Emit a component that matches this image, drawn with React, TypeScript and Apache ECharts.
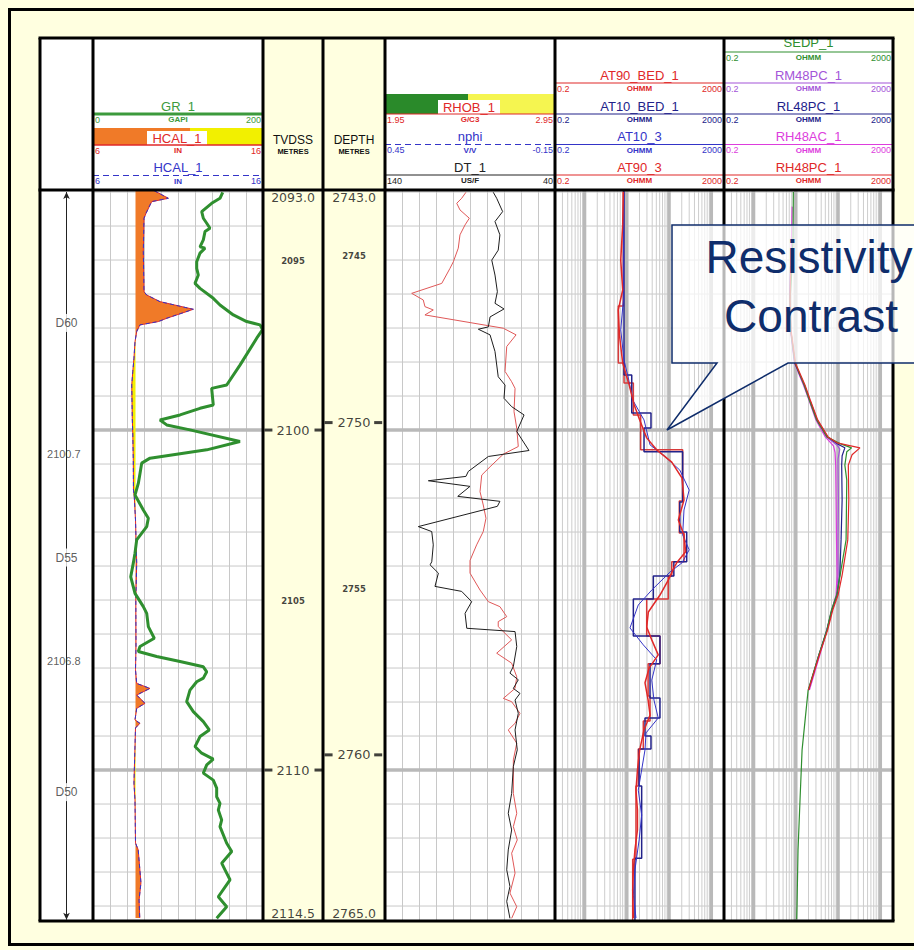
import React, { useEffect, useRef } from "react";
import * as echarts from "echarts";

// ---------- depth references ----------
const MD_RANGE = [2743.0, 2765.0];
const TVD_RANGE = [2093.0, 2114.5];
const TVD_AXIS = [2092.94, 2114.44];
const TVD_GRID = [2093, 2094, 2095, 2096, 2097, 2098, 2099, 2100, 2101, 2102, 2103, 2104, 2105, 2106, 2107, 2108, 2109, 2110, 2111, 2112, 2113, 2114];
const GR_RANGE = [0, 200];
const CAL_RANGE = [6, 16];
const BIT_SIZE = 8.5;
const RHOB_RANGE = [1.95, 2.95];
const DT_RANGE = [40, 140];
const RES_RANGE = [0.2, 2000];

const ZONE_NAMES = ["D60", "D55", "D50"];
const ZONE_LABEL_TVD = [2096.85, 2103.75, 2110.65];
const ZONE_BOUNDARIES = [2100.7, 2106.8];

const TVD_MINOR_LABELS = [2095, 2105];
const TVD_MAJOR_LABELS = [2100, 2110];
const MD_MINOR_LABELS = [2745, 2755];
const MD_MAJOR_LABELS = [2750, 2760];
const THICK_TVD_LINES = [2100, 2110];
const LOG_DECADES = [1, 10, 100, 1000];
const LOG_MINOR = [0.3, 0.4, 0.5, 0.6, 0.7, 0.8, 0.9, 2, 3, 4, 5, 6, 7, 8, 9, 20, 30, 40, 50, 60, 70, 80, 90, 200, 300, 400, 500, 600, 700, 800, 900];

// ---------- curves: [value, MD] ----------
const GR_1: [number, number][] = [
  [152.6, 2743.07], [149.4, 2743.25], [139.6, 2743.4], [127.9, 2743.65], [129.8, 2743.85], [133.8, 2744.0], [137.6, 2744.15], [131.8, 2744.25], [129.8, 2744.5], [125.9, 2744.71], [131.8, 2744.75], [125.9, 2744.9], [122.0, 2745.16], [122.0, 2745.36], [123.9, 2745.56], [120.0, 2745.81], [125.9, 2745.96], [141.5, 2746.26], [149.4, 2746.46], [165.1, 2746.76], [180.8, 2746.96], [196.5, 2747.06], [199.5, 2747.2], [192.6, 2747.46], [172.9, 2748.27], [157.3, 2748.87], [139.6, 2748.97], [141.5, 2749.47], [125.9, 2749.57], [102.4, 2749.77], [78.8, 2749.92], [86.7, 2750.07], [114.1, 2750.22], [172.9, 2750.57], [133.8, 2750.82], [67.1, 2751.07], [57.3, 2751.22], [55.3, 2751.53], [53.3, 2751.83], [49.4, 2752.18], [59.2, 2752.63], [65.1, 2752.88], [63.2, 2753.13], [51.4, 2753.53], [49.4, 2753.93], [47.4, 2754.23], [44.4, 2754.64], [49.4, 2755.14], [59.2, 2755.54], [63.2, 2755.74], [65.1, 2756.14], [72.1, 2756.49], [55.3, 2756.74], [53.3, 2756.89], [74.9, 2757.04], [102.4, 2757.19], [129.8, 2757.35], [133.8, 2757.5], [129.8, 2757.69], [122.0, 2757.8], [114.1, 2758.05], [110.2, 2758.4], [118.0, 2758.7], [129.8, 2759.0], [136.8, 2759.25], [125.9, 2759.45], [120.0, 2759.75], [127.9, 2759.95], [141.5, 2760.13], [133.8, 2760.3], [129.8, 2760.55], [141.5, 2760.76], [145.5, 2761.0], [145.5, 2761.26], [149.4, 2761.46], [147.4, 2761.66], [151.4, 2761.96], [149.4, 2762.16], [157.3, 2762.66], [163.2, 2762.91], [151.4, 2763.26], [155.3, 2763.46], [161.2, 2763.76], [147.4, 2764.27], [157.3, 2764.57], [145.5, 2764.92],
];

const HCAL_1: [number, number][] = [
  [9.6, 2743.02], [10.43, 2743.25], [9.45, 2743.35], [9.12, 2743.7], [9.0, 2743.85], [8.96, 2744.86], [9.0, 2746.06], [9.16, 2746.16], [9.94, 2746.36], [11.9, 2746.59], [10.34, 2746.86], [9.84, 2746.96], [8.76, 2747.06], [8.57, 2747.26], [8.47, 2747.57], [8.41, 2748.06], [8.34, 2748.47], [8.28, 2748.87], [8.31, 2749.87], [8.34, 2750.31], [8.37, 2751.13], [8.38, 2752.03], [8.43, 2752.24], [8.5, 2752.93], [8.57, 2754.22], [8.52, 2755.34], [8.53, 2756.74], [8.5, 2757.44], [8.57, 2757.85], [9.35, 2758.0], [8.57, 2758.2], [9.06, 2758.45], [8.57, 2758.6], [8.47, 2758.95], [8.76, 2759.05], [8.5, 2759.19], [8.41, 2760.85], [8.47, 2761.36], [8.5, 2762.65], [8.66, 2762.86], [8.82, 2763.85], [8.71, 2764.37], [8.75, 2764.91],
];

const RHOB_1: [number, number][] = [
  [2.426, 2743.07], [2.401, 2743.25], [2.372, 2743.4], [2.391, 2743.6], [2.446, 2743.85], [2.421, 2744.05], [2.391, 2744.35], [2.381, 2744.75], [2.352, 2745.16], [2.332, 2745.36], [2.284, 2745.81], [2.107, 2746.11], [2.175, 2746.31], [2.185, 2746.51], [2.234, 2746.61], [2.185, 2746.76], [2.646, 2747.16], [2.721, 2747.36], [2.666, 2747.71], [2.656, 2748.46], [2.695, 2748.77], [2.715, 2748.97], [2.709, 2749.67], [2.725, 2750.17], [2.734, 2750.72], [2.646, 2750.95], [2.568, 2751.33], [2.519, 2751.58], [2.509, 2752.08], [2.528, 2752.48], [2.544, 2752.88], [2.528, 2753.28], [2.489, 2753.68], [2.45, 2754.15], [2.45, 2754.53], [2.509, 2755.04], [2.558, 2755.39], [2.626, 2755.54], [2.666, 2755.84], [2.616, 2755.99], [2.616, 2756.14], [2.695, 2756.54], [2.607, 2756.94], [2.695, 2757.24], [2.725, 2757.65], [2.715, 2758.0], [2.646, 2758.3], [2.695, 2758.4], [2.744, 2758.75], [2.715, 2759.05], [2.675, 2759.25], [2.725, 2759.65], [2.705, 2760.15], [2.705, 2761.16], [2.725, 2761.76], [2.705, 2762.16], [2.728, 2762.56], [2.695, 2762.96], [2.715, 2763.56], [2.685, 2764.16], [2.725, 2764.57], [2.695, 2764.92],
];

const DT_1: [number, number][] = [
  [76.3, 2743.07], [74.3, 2743.25], [70.8, 2743.65], [75.3, 2743.95], [72.4, 2744.35], [73.4, 2744.81], [77.2, 2745.11], [75.3, 2745.56], [73.9, 2746.06], [75.3, 2746.41], [70.0, 2746.58], [78.2, 2746.82], [79.2, 2747.12], [85.1, 2747.19], [78.2, 2747.36], [75.3, 2747.86], [73.4, 2748.62], [69.4, 2748.87], [70.0, 2749.27], [65.5, 2749.52], [58.2, 2749.77], [62.5, 2750.27], [55.3, 2750.84], [79.2, 2751.02], [91.0, 2751.47], [92.4, 2751.62], [114.5, 2751.75], [90.0, 2751.92], [97.2, 2752.22], [72.4, 2752.37], [73.9, 2752.52], [120.4, 2753.13], [112.5, 2753.28], [111.6, 2753.68], [112.5, 2754.19], [113.5, 2754.28], [108.6, 2754.53], [110.6, 2754.93], [94.9, 2755.08], [89.0, 2755.39], [92.9, 2755.74], [91.9, 2756.19], [63.5, 2756.29], [62.5, 2756.74], [64.5, 2757.34], [66.5, 2757.54], [61.6, 2757.74], [64.5, 2758.0], [60.6, 2758.15], [63.5, 2758.35], [61.6, 2758.75], [63.5, 2759.25], [62.2, 2759.85], [64.5, 2760.35], [65.5, 2761.16], [67.5, 2761.76], [65.5, 2762.26], [67.5, 2762.86], [68.4, 2763.46], [66.5, 2763.96], [68.4, 2764.41], [66.5, 2764.92],
];

const AT90_3: [number, number][] = [
  [8.3, 2743.06], [8.0, 2744.05], [7.2, 2745.11], [8.0, 2746.01], [6.3, 2746.61], [6.7, 2747.36], [8.0, 2748.21], [11.4, 2748.87], [15.0, 2749.47], [20.2, 2749.92], [29.6, 2750.46], [51, 2750.82], [116, 2751.19], [203, 2751.67], [226, 2752.33], [166, 2752.93], [226, 2753.38], [247, 2753.89], [152, 2754.22], [133, 2754.35], [96, 2754.74], [61, 2755.19], [32.4, 2755.7], [29.6, 2756.15], [39, 2756.54], [55.5, 2756.99], [34, 2757.38], [27, 2757.83], [32, 2758.35], [35.5, 2758.8], [25.6, 2759.25], [20.2, 2759.85], [17.9, 2760.45], [16.5, 2761.06], [17.9, 2761.66], [17.9, 2762.26], [15.6, 2762.86], [14.3, 2763.46], [13.8, 2764.07], [14.3, 2764.91],
];

const AT10_3: [number, number][] = [
  [8.6, 2743.06], [8.3, 2745.11], [8.3, 2746.31], [7.2, 2747.21], [8.6, 2748.12], [10.9, 2748.66], [13.8, 2749.32], [25.6, 2749.92], [35.5, 2750.67], [72, 2750.97], [180, 2751.43], [300, 2752.03], [226, 2752.63], [210, 2753.38], [300, 2753.83], [203, 2754.22], [105, 2754.5], [39, 2755.04], [18.7, 2755.49], [11.9, 2756.18], [24.6, 2756.69], [51, 2757.14], [39, 2757.75], [44, 2758.35], [55.5, 2758.89], [28.5, 2759.34], [27, 2759.85], [22.5, 2760.45], [18.7, 2761.06], [22.5, 2761.81], [19.6, 2762.56], [15.6, 2763.46], [14.3, 2764.22], [16.5, 2764.91],
];

// blocky curves: [value, top MD, base MD]
const AT90_BED_1: [number, number, number][] = [
  [8.3, 2743.0, 2746.49], [6.3, 2746.49, 2748.21], [8.6, 2748.21, 2748.81], [14.3, 2748.81, 2749.77], [21.3, 2749.77, 2750.82], [210, 2750.82, 2752.36], [175, 2752.36, 2753.32], [226, 2753.32, 2754.19], [116, 2754.19, 2754.62], [96, 2754.62, 2755.31], [29.6, 2755.31, 2756.42], [61, 2756.42, 2757.26], [32, 2757.26, 2758.23], [35.5, 2758.23, 2758.98], [24.6, 2758.98, 2759.82], [18.7, 2759.82, 2760.94], [16.5, 2760.94, 2763.14], [13.8, 2763.14, 2765.0],
];
const AT10_BED_1: [number, number, number][] = [
  [8.6, 2743.0, 2748.57], [13.1, 2748.57, 2749.71], [37.4, 2749.71, 2750.16], [25.6, 2750.16, 2750.88], [210, 2750.88, 2752.39], [180, 2752.39, 2753.29], [262, 2753.29, 2754.19], [130, 2754.19, 2754.62], [42.5, 2754.62, 2755.31], [14.3, 2755.31, 2756.42], [61, 2756.42, 2757.26], [35.5, 2757.26, 2758.29], [61, 2758.29, 2758.89], [27, 2758.89, 2759.43], [37.4, 2759.43, 2759.82], [19.6, 2759.82, 2760.94], [22.5, 2760.94, 2763.11], [15.6, 2763.11, 2765.0],
];

const SEDP_1: [number, number][] = [
  [8.75, 2743.06], [8.6, 2744.5], [7.9, 2745.6], [7.3, 2746.31], [7.6, 2747.21], [9.6, 2748.21], [15.8, 2748.87], [20.9, 2749.32], [31.2, 2749.92], [54.5, 2750.43], [120, 2750.65], [209, 2750.76], [161, 2750.88], [145, 2751.28], [161, 2751.73], [158, 2752.6], [155, 2753.53], [112, 2754.59], [93, 2755.19], [70, 2755.64], [54.5, 2756.24], [35, 2757.0], [19.6, 2758.05], [14.1, 2759.85], [12.6, 2761.36], [11.3, 2762.86], [10.7, 2764.52], [10.5, 2764.95],
];
const RM48PC_1: [number, number][] = [
  [7.5, 2745.3], [7.2, 2746.31], [7.5, 2747.21], [9.4, 2748.21], [15.5, 2748.87], [21, 2749.32], [31, 2749.92], [53, 2750.43], [95, 2750.68], [110, 2750.8], [100, 2751.1], [100, 2751.28], [102, 2752.33], [100, 2753.53], [100, 2754.59], [92, 2755.19], [71, 2755.64], [54, 2756.24], [36, 2757.0], [20, 2758.05],
];
const RL48PC_1: [number, number][] = [
  [7.5, 2745.3], [7.2, 2746.31], [7.6, 2747.21], [9.5, 2748.21], [16, 2748.87], [21.5, 2749.32], [32, 2749.92], [56, 2750.43], [100, 2750.65], [145, 2750.76], [125, 2751.0], [122, 2751.28], [125, 2752.33], [118, 2753.53], [110, 2754.59], [95, 2755.19], [72, 2755.64], [55, 2756.24], [35, 2757.0], [20, 2758.05],
];
const RH48AC_1: [number, number][] = [
  [8.2, 2743.5], [8.0, 2744.2], [7.6, 2745.3], [7.2, 2746.31], [7.5, 2747.21], [9.3, 2748.21], [15.2, 2748.87], [20.5, 2749.32], [30, 2749.92], [50, 2750.43], [78, 2750.7], [85, 2750.9], [88, 2751.28], [90, 2752.33], [92, 2753.53], [95, 2754.59], [90, 2755.19], [72, 2755.64], [55, 2756.24], [37, 2757.0], [21, 2758.05],
];
const RH48PC_1: [number, number][] = [
  [7.6, 2745.3], [7.3, 2746.31], [7.7, 2747.21], [9.8, 2748.21], [16.5, 2748.87], [22, 2749.32], [33, 2749.92], [58, 2750.43], [95, 2750.61], [330, 2750.76], [215, 2750.97], [175, 2751.28], [180, 2752.33], [170, 2753.53], [125, 2754.59], [100, 2755.19], [75, 2755.64], [57, 2756.24], [36, 2757.0], [20, 2758.05],
];

// ---------- layout ----------
const FONT = "'Liberation Sans', Arial, sans-serif";
const DFONT = "'DejaVu Sans', Verdana, sans-serif";
const TOP = 190;
const BOTTOM = 921;
const HEAD_TOP = 38;
const PAGE_BG = "#ffffe0";
const GRID_COLOR = "#c8c8c8";
const THICK_COLOR = "#b9b9b9";

const C = {
  green: "#2f8f2f",
  red: "#e02828",
  lightRed: "#e05858",
  blue: "#3434c8",
  navy: "#22228a",
  purple: "#a455d8",
  magenta: "#dd3ddd",
  black: "#1e1e1e",
  orange: "#f07a28",
  yellow: "#f2f000",
  callout: "#0f2d6b",
};

const blocksToPath = (b: [number, number, number][]) =>
  b.flatMap(([v, t, s]) => [[v, t], [v, s]]);

function buildOption(): any {
  const trackDefs = [
    { key: "t0", left: 40, width: 53, bg: "#ffffff" },
    { key: "t1", left: 93, width: 170, bg: "#ffffff" },
    { key: "tv", left: 263, width: 60, bg: "transparent" },
    { key: "md", left: 323, width: 62, bg: "transparent" },
    { key: "t3", left: 385, width: 170, bg: "#ffffff" },
    { key: "t4", left: 555, width: 169, bg: "#ffffff" },
    { key: "t5", left: 724, width: 169, bg: "#ffffff" },
  ];
  const gi: any = {};
  trackDefs.forEach((t, i) => (gi[t.key] = i));

  const grid = trackDefs.map((t) => ({
    left: t.left, top: TOP, width: t.width, height: BOTTOM - TOP,
    show: true, backgroundColor: t.bg, borderWidth: 0, containLabel: false,
  }));

  const yAxis: any[] = [];
  trackDefs.forEach((_t, i) => {
    yAxis.push({ gridIndex: i, type: "value", inverse: true, min: TVD_AXIS[0], max: TVD_AXIS[1], show: false });
    yAxis.push({ gridIndex: i, type: "value", inverse: true, min: MD_RANGE[0], max: MD_RANGE[1], show: false });
  });
  const tvdY = (k: string) => gi[k] * 2;
  const mdY = (k: string) => gi[k] * 2 + 1;

  const xAxis: any[] = [];
  const hidden = { axisLine: { show: false }, axisTick: { show: false }, axisLabel: { show: false }, splitLine: { show: false } };
  const addX = (o: any) => { xAxis.push({ ...hidden, ...o }); return xAxis.length - 1; };
  const xT0 = addX({ gridIndex: gi.t0, type: "value", min: 0, max: 1 });
  const xT1f = addX({ gridIndex: gi.t1, type: "value", min: 0, max: 10, interval: 1, splitLine: { show: true, lineStyle: { color: GRID_COLOR, width: 1 } } });
  const xGR = addX({ gridIndex: gi.t1, type: "value", min: GR_RANGE[0], max: GR_RANGE[1] });
  const xCAL = addX({ gridIndex: gi.t1, type: "value", min: CAL_RANGE[0], max: CAL_RANGE[1] });
  const xTV = addX({ gridIndex: gi.tv, type: "value", min: 0, max: 1 });
  const xMD = addX({ gridIndex: gi.md, type: "value", min: 0, max: 1 });
  const xT3f = addX({ gridIndex: gi.t3, type: "value", min: 0, max: 10, interval: 1, splitLine: { show: true, lineStyle: { color: GRID_COLOR, width: 1 } } });
  const xRHOB = addX({ gridIndex: gi.t3, type: "value", min: RHOB_RANGE[0], max: RHOB_RANGE[1] });
  const xDT = addX({ gridIndex: gi.t3, type: "value", min: DT_RANGE[0], max: DT_RANGE[1], inverse: true });
  const xT4 = addX({ gridIndex: gi.t4, type: "log", logBase: 10, min: RES_RANGE[0], max: RES_RANGE[1] });
  const xT5 = addX({ gridIndex: gi.t5, type: "log", logBase: 10, min: RES_RANGE[0], max: RES_RANGE[1] });

  const series: any[] = [];

  // grid extras (depth lines, log verticals, thick depth lines)
  const gridExtras = (xi: number, yi: number, xmin: number, xmax: number, log: boolean) => ({
    type: "custom", xAxisIndex: xi, yAxisIndex: yi, silent: true, z: 1,
    data: [[xmin * 1.5, 2100]],
    renderItem: (_p: any, api: any) => {
      const children: any[] = [];
      const hline = (d: number, stroke: string, w: number) => {
        const a = api.coord([xmin, d]); const b = api.coord([xmax, d]);
        children.push({ type: "line", shape: { x1: a[0], y1: a[1], x2: b[0], y2: b[1] }, style: { stroke, lineWidth: w } });
      };
      const vline = (v: number, stroke: string, w: number) => {
        const a = api.coord([v, TVD_AXIS[0]]); const b = api.coord([v, TVD_AXIS[1]]);
        children.push({ type: "line", shape: { x1: a[0], y1: a[1], x2: b[0], y2: b[1] }, style: { stroke, lineWidth: w } });
      };
      TVD_GRID.forEach((d) => hline(d, GRID_COLOR, 1));
      if (log) {
        LOG_MINOR.forEach((v) => vline(v, "#cdcdcd", 1));
        LOG_DECADES.forEach((v) => vline(v, THICK_COLOR, 3.5));
      }
      THICK_TVD_LINES.forEach((d) => hline(d, THICK_COLOR, 3.5));
      return { type: "group", children };
    },
  });
  series.push(gridExtras(xT1f, tvdY("t1"), 0, 10, false));
  series.push(gridExtras(xT3f, tvdY("t3"), 0, 10, false));
  series.push(gridExtras(xT4, tvdY("t4"), RES_RANGE[0], RES_RANGE[1], true));
  series.push(gridExtras(xT5, tvdY("t5"), RES_RANGE[0], RES_RANGE[1], true));

  const curve = (name: string, data: any[], xi: number, yi: number, color: string, width: number, type: any = "solid", z = 3) => ({
    type: "line", name, data, xAxisIndex: xi, yAxisIndex: yi, showSymbol: false, symbol: "none", silent: true,
    clip: true, lineStyle: { color, width, type }, z,
  });

  // caliper fill
  series.push({
    type: "custom", xAxisIndex: xCAL, yAxisIndex: mdY("t1"), silent: true, z: 2,
    data: [[BIT_SIZE, 2750]],
    renderItem: (_p: any, api: any) => {
      const wash = HCAL_1.map(([c, d]) => api.coord([Math.max(c, BIT_SIZE), d]));
      const cake = HCAL_1.map(([c, d]) => api.coord([Math.min(c, BIT_SIZE), d]));
      const base = HCAL_1.slice().reverse().map(([, d]) => api.coord([BIT_SIZE, d]));
      return {
        type: "group", children: [
          { type: "polygon", shape: { points: wash.concat(base) }, style: { fill: C.orange } },
          { type: "polygon", shape: { points: cake.concat(base) }, style: { fill: C.yellow } },
        ],
      };
    },
  });
  series.push(curve("HCAL_1", HCAL_1, xCAL, mdY("t1"), C.red, 1, "solid", 3));
  series.push(curve("HCAL_1 b", HCAL_1, xCAL, mdY("t1"), C.blue, 1, [4, 3], 3));
  series.push(curve("GR_1", GR_1, xGR, mdY("t1"), C.green, 3, "solid", 4));

  series.push(curve("RHOB_1", RHOB_1, xRHOB, mdY("t3"), C.lightRed, 1));
  series.push(curve("DT_1", DT_1, xDT, mdY("t3"), C.black, 1));

  series.push(curve("AT90_BED_1", blocksToPath(AT90_BED_1), xT4, mdY("t4"), "#d83a3a", 1.5));
  series.push(curve("AT10_BED_1", blocksToPath(AT10_BED_1), xT4, mdY("t4"), C.navy, 1.5));
  series.push(curve("AT10_3", AT10_3, xT4, mdY("t4"), C.blue, 1));
  series.push(curve("AT90_3", AT90_3, xT4, mdY("t4"), C.red, 1.5, "solid", 4));

  series.push(curve("RM48PC_1", RM48PC_1, xT5, mdY("t5"), C.purple, 1.2));
  series.push(curve("RH48AC_1", RH48AC_1, xT5, mdY("t5"), C.magenta, 1.2));
  series.push(curve("RL48PC_1", RL48PC_1, xT5, mdY("t5"), C.navy, 1.2));
  series.push(curve("SEDP_1", SEDP_1, xT5, mdY("t5"), C.green, 1.2));
  series.push(curve("RH48PC_1", RH48PC_1, xT5, mdY("t5"), C.red, 1.2));

  // zone track
  series.push({
    type: "scatter", xAxisIndex: xT0, yAxisIndex: tvdY("t0"), silent: true, z: 3,
    symbolSize: 0, data: [[0.5, ZONE_LABEL_TVD[1]]],
    markLine: {
      silent: true, symbol: ["arrow", "arrow"], symbolSize: [5, 7],
      label: { show: false }, lineStyle: { color: "#222", width: 1, type: "solid" },
      data: [[{ coord: [0.5, TVD_RANGE[0]] }, { coord: [0.5, TVD_RANGE[1] - 0.1] }]],
    },
  });
  series.push({
    type: "scatter", xAxisIndex: xT0, yAxisIndex: tvdY("t0"), silent: true, z: 6,
    symbolSize: 1, itemStyle: { color: "rgba(0,0,0,0)" },
    data: ZONE_LABEL_TVD.map((d, i) => ({ value: [0.5, d], name: ZONE_NAMES[i] })),
    label: { show: true, position: "inside", formatter: "{b}", color: "#333", fontSize: 12, fontFamily: FONT, backgroundColor: "#ffffff", padding: [3, 1] },
  });
  series.push({
    type: "scatter", xAxisIndex: xT0, yAxisIndex: tvdY("t0"), silent: true, z: 6,
    symbolSize: 1, itemStyle: { color: "rgba(0,0,0,0)" },
    data: ZONE_BOUNDARIES.map((d) => [0.45, d]),
    label: { show: true, position: "inside", formatter: (p: any) => p.value[1].toFixed(1), color: "#333", fontSize: 11, fontFamily: FONT },
  });

  // depth tracks
  const depthLabels = (xi: number, yi: number, vals: number[], size: number, fmt: (v: number) => string, offset: number[] = [0, 0], bold = false) => ({
    type: "scatter", xAxisIndex: xi, yAxisIndex: yi, silent: true, z: 6, clip: false,
    symbolSize: 1, itemStyle: { color: "rgba(0,0,0,0)" },
    data: vals.map((v) => [0.5, v]),
    label: { show: true, position: "inside", offset, formatter: (p: any) => fmt(p.value[1]), color: "#111", fontSize: size, fontFamily: DFONT, fontWeight: bold ? "bold" : "normal" },
  });
  const ticks = (xi: number, yi: number, vals: number[], xl: number, xr: number) => ({
    type: "scatter", xAxisIndex: xi, yAxisIndex: yi, silent: true, z: 6,
    symbol: "rect", symbolSize: [8, 3], itemStyle: { color: "#111" },
    data: vals.flatMap((v) => [[xl, v], [xr, v]]),
  });
  const f0 = (v: number) => String(v);
  const f1 = (v: number) => v.toFixed(1);
  series.push(depthLabels(xTV, tvdY("tv"), TVD_MAJOR_LABELS, 13, f0));
  series.push(depthLabels(xTV, tvdY("tv"), TVD_MINOR_LABELS, 8.5, f0, [0, 1], true));
  series.push(depthLabels(xTV, tvdY("tv"), [TVD_RANGE[0]], 12.5, f1, [0, 5]));
  series.push(depthLabels(xTV, tvdY("tv"), [TVD_RANGE[1]], 12.5, f1, [0, -10]));
  series.push(ticks(xTV, tvdY("tv"), TVD_MAJOR_LABELS, 0.09, 0.925));
  series.push(depthLabels(xMD, mdY("md"), MD_MAJOR_LABELS, 13, f0));
  series.push(depthLabels(xMD, mdY("md"), MD_MINOR_LABELS, 8.5, f0, [0, 0], true));
  series.push(depthLabels(xMD, mdY("md"), [MD_RANGE[0]], 12.5, f1, [0, 7]));
  series.push(depthLabels(xMD, mdY("md"), [MD_RANGE[1]], 12.5, f1, [0, -8]));
  series.push(ticks(xMD, mdY("md"), MD_MAJOR_LABELS, 0.09, 0.89));

  // ---------- graphics ----------
  const G: any[] = [];
  const text = (x: number, y: number, s: string, fill: string, size: number, extra: any = {}, z = 50) =>
    G.push({ type: "text", x, y, z, silent: true, style: { text: s, fill, fontSize: size, fontFamily: FONT, align: "center", verticalAlign: "middle", ...extra } });
  const line = (x1: number, y1: number, x2: number, y2: number, stroke: string, lineWidth: number, extra: any = {}, z = 50) =>
    G.push({ type: "line", z, silent: true, shape: { x1, y1, x2, y2 }, style: { stroke, lineWidth, ...extra } });
  const rect = (x: number, y: number, w: number, h: number, style: any, z = 10) =>
    G.push({ type: "rect", z, silent: true, shape: { x, y, width: w, height: h }, style });

  // header backgrounds
  rect(40, HEAD_TOP, 223, TOP - HEAD_TOP, { fill: "#ffffff" }, 1);
  rect(385, HEAD_TOP, 508, TOP - HEAD_TOP, { fill: "#ffffff" }, 1);

  const scale = (x0: number, x1: number, y: number, color: string, l: string, u: string, r: string) => {
    text(x0 + 2, y, l, color, 9, { align: "left" });
    text((x0 + x1) / 2, y, u, color, 8, { fontWeight: "bold" });
    text(x1 - 2, y, r, color, 9, { align: "right" });
  };
  const hdr = (x0: number, x1: number, yl: number, name: string, color: string, l: string, u: string, r: string, lw = 1, dash?: number[], dy = 8) => {
    text((x0 + x1) / 2, yl - dy, name, color, 13);
    line(x0, yl, x1, yl, color, lw, dash ? { lineDash: dash } : {});
    scale(x0, x1, yl + 5.5, color, l, u, r);
  };

  // track 1 header
  hdr(93, 263, 114, "GR_1", "#3c9a3c", "0", "GAPI", "200", 3);
  rect(93, 128, 97, 17, { fill: C.orange }, 20);
  rect(190, 128, 73, 17, { fill: C.yellow }, 20);
  rect(147, 131, 60, 14, { fill: "#ffffff" }, 21);
  text(177, 138, "HCAL_1", C.red, 13);
  line(93, 145, 263, 145, C.red, 1.5);
  scale(93, 263, 150.5, C.red, "6", "IN", "16");
  hdr(93, 263, 175.5, "HCAL_1", C.blue, "6", "IN", "16", 1, [6, 4]);

  // depth headers
  text(293, 140, "TVDSS", "#111", 12);
  text(293, 151, "METRES", "#111", 7.5, { fontWeight: "bold" });
  text(354, 140, "DEPTH", "#111", 12);
  text(354, 151, "METRES", "#111", 7.5, { fontWeight: "bold" });

  // track 3 header
  rect(385, 94, 83, 20, { fill: "#2a8a2a" }, 20);
  rect(468, 94, 87, 20, { fill: "#f5f550" }, 20);
  rect(438, 100, 62, 14, { fill: "#ffffff" }, 21);
  text(469, 107.5, "RHOB_1", C.red, 13);
  line(385, 114, 555, 114, C.red, 1.2);
  scale(385, 555, 119.5, C.red, "1.95", "G/C3", "2.95");
  hdr(385, 555, 144.5, "nphi", C.blue, "0.45", "V/V", "-0.15", 1.2, [6, 4]);
  hdr(385, 555, 175, "DT_1", "#222", "140", "US/F", "40", 1);

  // track 4 header
  hdr(555, 724, 83, "AT90_BED_1", C.red, "0.2", "OHMM", "2000", 1.2);
  hdr(555, 724, 114, "AT10_BED_1", C.navy, "0.2", "OHMM", "2000", 1.2);
  hdr(555, 724, 144.5, "AT10_3", C.blue, "0.2", "OHMM", "2000", 1.2);
  hdr(555, 724, 175, "AT90_3", C.red, "0.2", "OHMM", "2000", 1.2);

  // track 5 header
  hdr(724, 893, 52, "SEDP_1", C.green, "0.2", "OHMM", "2000", 1.2, undefined, 10);
  hdr(724, 893, 83, "RM48PC_1", C.purple, "0.2", "OHMM", "2000", 1.2);
  hdr(724, 893, 114, "RL48PC_1", C.navy, "0.2", "OHMM", "2000", 1.2);
  hdr(724, 893, 144.5, "RH48AC_1", C.magenta, "0.2", "OHMM", "2000", 1.2);
  hdr(724, 893, 175, "RH48PC_1", C.red, "0.2", "OHMM", "2000", 1.2);

  // borders
  [40, 93, 263, 323, 385, 555, 724, 893].forEach((x) => line(x, HEAD_TOP, x, BOTTOM, "#000", 3, {}, 100));
  [HEAD_TOP, TOP, BOTTOM].forEach((y) => line(38.5, y, 894.5, y, "#000", 3, {}, 100));
  rect(9.5, 9.5, 940, 935, { fill: "none", stroke: "#000", lineWidth: 3 }, 100);

  // callout
  G.push({
    type: "polygon", z: 110, silent: true,
    shape: { points: [[672, 225], [960, 225], [960, 363], [788, 363], [667, 430], [717, 363], [672, 363]] },
    style: { fill: "rgba(255,255,255,0.72)", stroke: C.callout, lineWidth: 1.5 },
  });
  text(809, 257, "Resistivity", C.callout, 46, {}, 111);
  text(811, 316, "Contrast", C.callout, 46, {}, 111);

  return {
    animation: false,
    backgroundColor: PAGE_BG,
    grid, xAxis, yAxis, series,
    graphic: { elements: G },
  };
}

export default function App() {
  const ref = useRef<HTMLDivElement>(null);
  useEffect(() => {
    const chart = echarts.init(ref.current as HTMLDivElement, null, { renderer: "svg", width: 914, height: 950 });
    chart.setOption(buildOption());
    return () => chart.dispose();
  }, []);
  return <div ref={ref} style={{ position: "fixed", left: 0, top: 0, width: 914, height: 950 }} />;
}
